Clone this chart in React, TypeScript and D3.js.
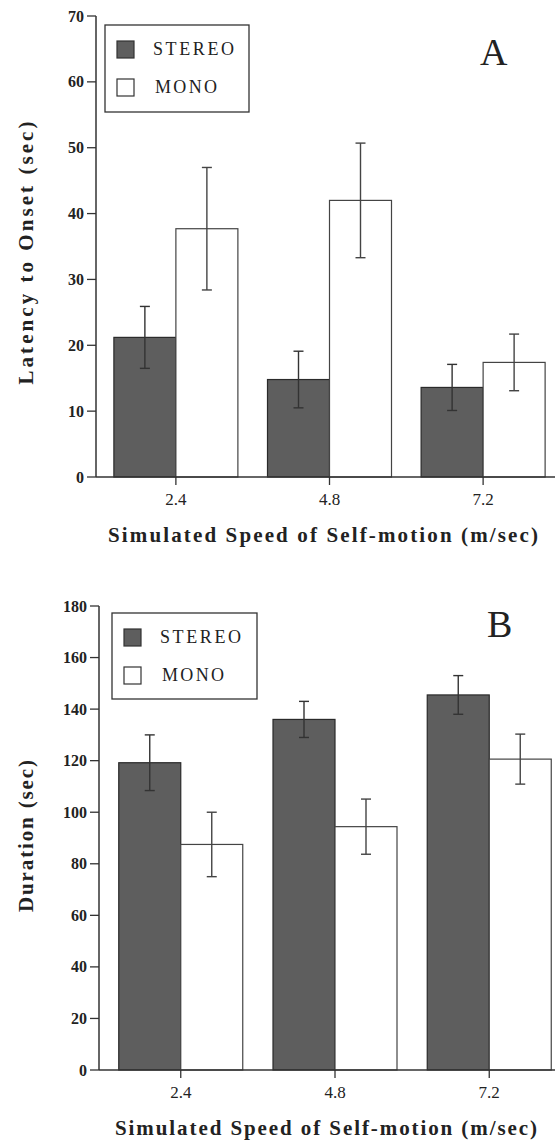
import React from "react";
import * as d3 from "d3";

const categories = ["2.4", "4.8", "7.2"];
const seriesNames = ["STEREO", "MONO"];

const latencyStereo = [21.2, 14.8, 13.6];
const latencyStereoErr = [4.7, 4.3, 3.5];
const latencyMono = [37.7, 42.0, 17.4];
const latencyMonoErr = [9.3, 8.7, 4.3];
const latencyTicks = [0, 10, 20, 30, 40, 50, 60, 70];

const durationStereo = [119.2, 136.0, 145.5];
const durationStereoErr = [10.8, 7.0, 7.5];
const durationMono = [87.5, 94.4, 120.6];
const durationMonoErr = [12.5, 10.7, 9.7];
const durationTicks = [0, 20, 40, 60, 80, 100, 120, 140, 160, 180];

const xTitle = "Simulated Speed of Self-motion (m/sec)";

const SERIF = "Liberation Serif, Times New Roman, DejaVu Serif, serif";
const STEREO_FILL = "#5e5e5e";
const AXIS = "#333";

type PanelProps = {
  stereo: number[];
  stereoErr: number[];
  mono: number[];
  monoErr: number[];
  ticks: number[];
  yMax: number;
  axisX: number;
  yTop: number;
  yBottom: number;
  xRangeEnd: number;
  xPad: number;
  yTitle: string;
  yTitleCenter: number;
  yTitleLen: number;
  xTitleX: number;
  xTitleLen: number;
  letter: string;
  letterX: number;
  letterY: number;
  legend: { x: number; y: number; w: number; h: number };
};

function Panel(p: PanelProps) {
  const y = d3.scaleLinear().domain([0, p.yMax]).range([p.yBottom, p.yTop]);
  const x = d3
    .scalePoint<string>()
    .domain(categories)
    .range([p.axisX, p.xRangeEnd])
    .padding(p.xPad);
  const inner = d3.scaleBand<string>().domain(seriesNames).range([-62, 62]);
  const bw = inner.bandwidth();
  const data = [
    { name: "STEREO", vals: p.stereo, errs: p.stereoErr },
    { name: "MONO", vals: p.mono, errs: p.monoErr },
  ];
  const cap = 5;
  const lg = p.legend;
  return (
    <g>
      {data.map((s) =>
        s.vals.map((v, i) => {
          const bx = (x(categories[i]) as number) + (inner(s.name) as number);
          return (
            <rect
              key={s.name + i}
              x={bx}
              y={y(v)}
              width={bw}
              height={y(0) - y(v)}
              fill={s.name === "STEREO" ? STEREO_FILL : "#fff"}
              stroke={s.name === "STEREO" ? "#2a2a2a" : "#444"}
              strokeWidth={1.2}
            />
          );
        })
      )}
      {data.map((s) =>
        s.vals.map((v, i) => {
          const cx = (x(categories[i]) as number) + (inner(s.name) as number) + bw / 2;
          const hi = y(v + s.errs[i]);
          const lo = y(v - s.errs[i]);
          return (
            <g key={"e" + s.name + i} stroke={s.name === "STEREO" ? "#333" : "#444"} strokeWidth={1.4}>
              <line x1={cx} x2={cx} y1={hi} y2={lo} />
              <line x1={cx - cap} x2={cx + cap} y1={hi} y2={hi} />
              <line x1={cx - cap} x2={cx + cap} y1={lo} y2={lo} />
            </g>
          );
        })
      )}
      <line x1={p.axisX} x2={p.axisX} y1={y(p.yMax)} y2={y(0)} stroke={AXIS} strokeWidth={1.5} />
      <line x1={p.axisX} x2={560} y1={y(0)} y2={y(0)} stroke={AXIS} strokeWidth={1.5} />
      {p.ticks.map((t) => (
        <g key={"t" + t}>
          <line x1={p.axisX - 9} x2={p.axisX} y1={y(t)} y2={y(t)} stroke={AXIS} strokeWidth={1.3} />
          <text
            x={p.axisX - 12}
            y={y(t)}
            dy="0.35em"
            textAnchor="end"
            fontFamily={SERIF}
            fontWeight="bold"
            fontSize={16}
            fill="#222"
          >
            {t}
          </text>
        </g>
      ))}
      {categories.map((c) => (
        <g key={"c" + c}>
          <line
            x1={x(c) as number}
            x2={x(c) as number}
            y1={y(0)}
            y2={y(0) + 8}
            stroke={AXIS}
            strokeWidth={1.3}
          />
          <text
            x={x(c) as number}
            y={y(0) + 28}
            textAnchor="middle"
            fontFamily={SERIF}
            fontSize={17}
            fill="#222"
          >
            {c}
          </text>
        </g>
      ))}
      <text
        x={p.xTitleX}
        y={y(0) + 65}
        fontFamily={SERIF}
        fontWeight="bold"
        fontSize={21}
        textLength={p.xTitleLen}
        lengthAdjust="spacing"
        fill="#222"
      >
        {xTitle}
      </text>
      <text
        transform={`translate(33,${p.yTitleCenter}) rotate(-90)`}
        x={-p.yTitleLen / 2}
        y={0}
        fontFamily={SERIF}
        fontWeight="bold"
        fontSize={21}
        textLength={p.yTitleLen}
        lengthAdjust="spacing"
        fill="#222"
      >
        {p.yTitle}
      </text>
      <rect x={lg.x} y={lg.y} width={lg.w} height={lg.h} fill="#fff" stroke="#333" strokeWidth={1.3} />
      {seriesNames.map((n, i) => (
        <g key={"l" + n}>
          <rect
            x={lg.x + 12}
            y={lg.y + 16 + i * 38}
            width={17}
            height={17}
            fill={n === "STEREO" ? STEREO_FILL : "#fff"}
            stroke="#333"
            strokeWidth={1.2}
          />
          <text
            x={lg.x + (n === "STEREO" ? 48 : 50)}
            y={lg.y + 30 + i * 38}
            fontFamily={SERIF}
            fontSize={18}
            textLength={n === "STEREO" ? 81 : 62}
            lengthAdjust="spacing"
            fill="#222"
          >
            {n}
          </text>
        </g>
      ))}
      <text x={p.letterX} y={p.letterY} fontFamily={SERIF} fontSize={38} fill="#222">
        {p.letter}
      </text>
    </g>
  );
}

export default function App() {
  return (
    <svg
      width={555}
      height={1146}
      style={{ position: "absolute", left: 0, top: 0, background: "#fff" }}
    >
      <rect width={555} height={1146} fill="#fff" />
      <Panel
        stereo={latencyStereo}
        stereoErr={latencyStereoErr}
        mono={latencyMono}
        monoErr={latencyMonoErr}
        ticks={latencyTicks}
        yMax={70}
        axisX={96}
        yTop={16}
        yBottom={477}
        xRangeEnd={563}
        xPad={0.52}
        yTitle="Latency to Onset (sec)"
        yTitleCenter={253}
        yTitleLen={263}
        xTitleX={108}
        xTitleLen={430}
        letter="A"
        letterX={480}
        letterY={65}
        legend={{ x: 105, y: 25, w: 144, h: 87 }}
      />
      <Panel
        stereo={durationStereo}
        stereoErr={durationStereoErr}
        mono={durationMono}
        monoErr={durationMonoErr}
        ticks={durationTicks}
        yMax={180}
        axisX={99}
        yTop={606}
        yBottom={1070}
        xRangeEnd={571}
        xPad={0.53}
        yTitle="Duration (sec)"
        yTitleCenter={836}
        yTitleLen={152}
        xTitleX={115}
        xTitleLen={422}
        letter="B"
        letterX={487}
        letterY={637}
        legend={{ x: 112, y: 613, w: 145, h: 86 }}
      />
    </svg>
  );
}
